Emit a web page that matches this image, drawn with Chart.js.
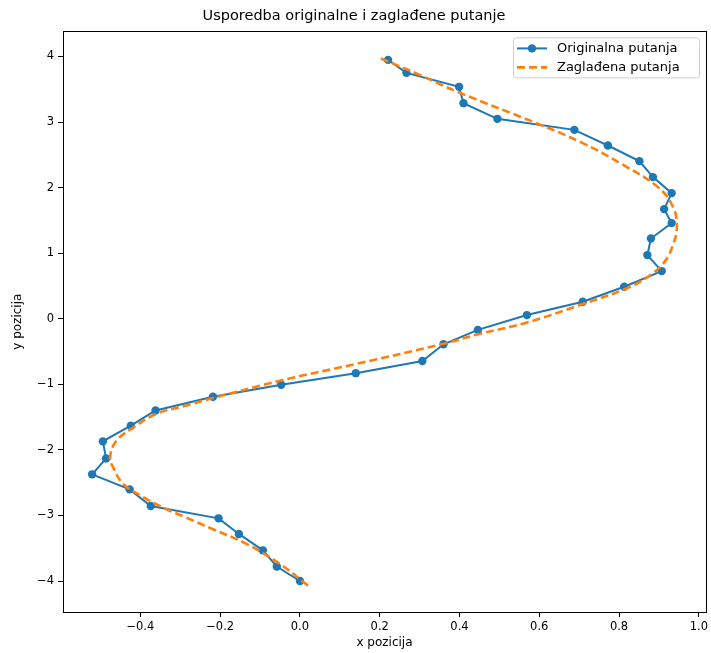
<!DOCTYPE html>
<html>
<head>
<meta charset="utf-8">
<script src="https://cdn.jsdelivr.net/npm/chart.js@4"></script>
<style>
  body{margin:0;background:#fff;}
  #wrap{width:711px;height:653px;}
</style>
</head>
<body>
<div id="wrap"><canvas id="chart" width="711" height="653"></canvas></div>
<script>
const titleText = "Usporedba originalne i zaglađene putanje";
const xLabel = "x pozicija";
const yLabel = "y pozicija";
const seriesNames = ["Originalna putanja", "Zaglađena putanja"];

// original path, bottom to top
const origX = [0.0, -0.058, -0.093, -0.153, -0.204, -0.374, -0.427, -0.521, -0.486, -0.494,
  -0.424, -0.362, -0.218, -0.047, 0.14, 0.307, 0.36, 0.446, 0.569, 0.709,
  0.813, 0.907, 0.871, 0.88, 0.932, 0.913, 0.932, 0.885, 0.851, 0.772,
  0.688, 0.495, 0.41, 0.399, 0.267, 0.221];
const origY = [-4.0, -3.78, -3.532, -3.282, -3.044, -2.855, -2.602, -2.373, -2.13, -1.87,
  -1.631, -1.398, -1.19, -1.006, -0.83, -0.645, -0.39, -0.17, 0.056, 0.259,
  0.488, 0.727, 0.971, 1.224, 1.459, 1.672, 1.916, 2.16, 2.404, 2.642,
  2.881, 3.049, 3.288, 3.537, 3.75, 3.948];

// smoothed path
const smoothX = [0.02, -0.05, -0.135, -0.218, -0.29, -0.343, -0.393, -0.443, -0.468, -0.476,
  -0.46, -0.418, -0.36, -0.29, -0.218, -0.05, 0.14, 0.357, 0.449, 0.57,
  0.709, 0.824, 0.882, 0.916, 0.936, 0.945, 0.936, 0.899, 0.807, 0.705,
  0.59, 0.399, 0.3, 0.199];
const smoothY = [-4.07, -3.74, -3.43, -3.21, -3.02, -2.88, -2.72, -2.52, -2.27, -2.11,
  -1.86, -1.66, -1.45, -1.33, -1.21, -0.945, -0.69, -0.386, -0.233, -0.056,
  0.224, 0.477, 0.681, 0.884, 1.139, 1.392, 1.697, 2.0, 2.358, 2.69,
  2.99, 3.45, 3.72, 3.98];

const xTicks = [-0.4, -0.2, 0.0, 0.2, 0.4, 0.6, 0.8, 1.0];
const yTicks = [-4, -3, -2, -1, 0, 1, 2, 3, 4];

const BLUE = "#1f77b4", ORANGE = "#ff7f0e";
const FONT = "'DejaVu Sans', sans-serif";

const toPts = (xs, ys) => xs.map((x, i) => ({x: x, y: ys[i]}));
const minus = s => s.replace("-", "\u2212");

// box round the plot area
const framePlugin = {
  id: "frame",
  afterDatasetsDraw(chart){
    const a = chart.chartArea, c = chart.ctx;
    c.save();
    c.strokeStyle = "#000";
    c.lineWidth = 1;
    c.strokeRect(Math.round(a.left) + 0.5, Math.round(a.top) + 0.5,
      Math.round(a.right - a.left), Math.round(a.bottom - a.top));
    c.restore();
  }
};

// matplotlib style legend, upper right
const legendPlugin = {
  id: "mplLegend",
  afterDraw(chart){
    const c = chart.ctx, a = chart.chartArea;
    const w = 186, h = 40;
    const x0 = a.right - 7 - w, y0 = a.top + 6;
    c.save();
    c.fillStyle = "rgba(255,255,255,0.8)";
    c.strokeStyle = "#d0d0d0";
    c.lineWidth = 1;
    c.beginPath();
    c.roundRect(x0 + 0.5, y0 + 0.5, w, h, 3);
    c.fill(); c.stroke();

    c.font = "13px " + FONT;
    c.fillStyle = "#000";
    c.textBaseline = "middle";
    const rows = [y0 + 11, y0 + 30];
    // row 1: line + marker
    c.strokeStyle = BLUE; c.lineWidth = 2;
    c.beginPath(); c.moveTo(x0 + 4, rows[0]); c.lineTo(x0 + 34, rows[0]); c.stroke();
    c.fillStyle = BLUE;
    c.beginPath(); c.arc(x0 + 19, rows[0], 4.2, 0, Math.PI * 2); c.fill();
    // row 2: dashed
    c.strokeStyle = ORANGE; c.lineWidth = 2.6; c.setLineDash([8, 4]);
    c.beginPath(); c.moveTo(x0 + 4, rows[1]); c.lineTo(x0 + 34, rows[1]); c.stroke();
    c.setLineDash([]);
    c.fillStyle = "#000";
    c.fillText(chart.data.datasets[0].label, x0 + 44, rows[0]);
    c.fillText(chart.data.datasets[1].label, x0 + 44, rows[1]);
    c.restore();
  }
};

new Chart(document.getElementById("chart"), {
  type: "scatter",
  data: {
    datasets: [
      {
        label: seriesNames[0],
        data: toPts(origX, origY),
        showLine: true,
        borderColor: BLUE,
        backgroundColor: BLUE,
        borderWidth: 2,
        pointRadius: 4.2,
        pointBorderWidth: 0,
        tension: 0,
        order: 1
      },
      {
        label: seriesNames[1],
        data: toPts(smoothX, smoothY),
        showLine: true,
        borderColor: ORANGE,
        backgroundColor: ORANGE,
        borderWidth: 2.6,
        borderDash: [8, 4],
        pointRadius: 0,
        tension: 0.4,
        order: 0
      }
    ]
  },
  options: {
    responsive: false,
    animation: false,
    layout: {padding: {top: 0, right: 3, bottom: 0, left: 0}},
    plugins: {
      legend: {display: false},
      tooltip: {enabled: false},
      title: {
        display: true,
        text: titleText,
        color: "#000",
        font: {family: FONT, size: 14.5, weight: "normal"},
        padding: {top: 8, bottom: 6}
      }
    },
    scales: {
      x: {
        type: "linear",
        min: -0.594,
        max: 1.018,
        afterBuildTicks: s => { s.ticks = xTicks.map(v => ({value: v})); },
        afterFit: s => { s.height = 41; },
        grid: {drawOnChartArea: false, drawTicks: true, tickLength: 5, tickColor: "#000"},
        border: {display: true, color: "#000", width: 1},
        ticks: {
          color: "#000",
          padding: 3,
          maxRotation: 0,
          font: {family: FONT, size: 11.5},
          callback: v => minus(v.toFixed(1))
        },
        title: {
          display: true,
          text: xLabel,
          color: "#000",
          font: {family: FONT, size: 12},
          padding: {top: 2, bottom: 3}
        }
      },
      y: {
        type: "linear",
        min: -4.4725,
        max: 4.3825,
        afterBuildTicks: s => { s.ticks = yTicks.map(v => ({value: v})); },
        afterFit: s => { s.width = 63; },
        grid: {drawOnChartArea: false, drawTicks: true, tickLength: 5, tickColor: "#000"},
        border: {display: true, color: "#000", width: 1},
        ticks: {
          color: "#000",
          padding: 4,
          font: {family: FONT, size: 11.5},
          callback: v => minus(String(v))
        },
        title: {
          display: true,
          text: yLabel,
          color: "#000",
          font: {family: FONT, size: 12},
          padding: {top: 11, bottom: 0}
        }
      }
    }
  },
  plugins: [framePlugin, legendPlugin]
});
</script>
</body>
</html>
